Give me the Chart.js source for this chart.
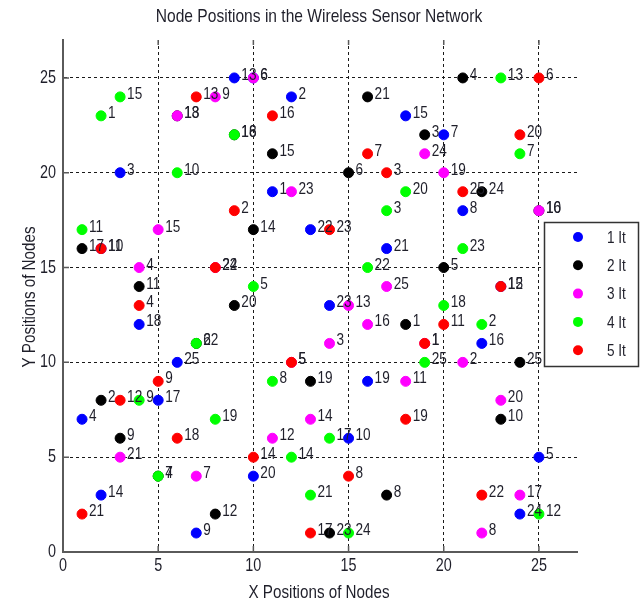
<!DOCTYPE html>
<html>
<head>
<meta charset="utf-8">
<script src="https://cdn.jsdelivr.net/npm/chart.js@4/dist/chart.umd.min.js"></script>
<style>
  html, body { margin: 0; padding: 0; background: #fff; }
  canvas { display: block; }
</style>
</head>
<body>
<canvas id="nodes" width="642" height="608"></canvas>
<script>
// node ids are the same for every iteration: 1..25
const nodeIds = [1, 2, 3, 4, 5, 6, 7, 8, 9, 10, 11, 12, 13, 14, 15, 16, 17, 18, 19, 20, 21, 22, 23, 24, 25]

// node positions per iteration, indexed by node id
const it1X = [11, 12, 3, 1, 25, 10, 20, 21, 7, 15, 2, 23, 9, 2, 18, 22, 5, 4, 16, 10, 17, 13, 14, 24, 6]
const it1Y = [19, 24, 20, 7, 5, 25, 22, 18, 1, 6, 16, 14, 25, 3, 23, 11, 8, 12, 9, 4, 16, 17, 13, 2, 10]

const it2X = [18, 2, 19, 21, 20, 15, 5, 17, 3, 23, 4, 8, 6, 10, 11, 25, 1, 9, 13, 9, 16, 7, 14, 22, 24]
const it2Y = [12, 8, 22, 25, 15, 20, 4, 3, 6, 7, 14, 2, 23, 17, 21, 18, 16, 22, 9, 13, 24, 11, 1, 19, 10]

const it3X = [19, 21, 14, 4, 12, 10, 7, 22, 8, 25, 18, 11, 15, 13, 5, 16, 24, 6, 20, 23, 3, 8, 12, 19, 17]
const it3Y = [11, 10, 11, 15, 10, 25, 4, 1, 24, 18, 9, 6, 13, 7, 17, 12, 3, 23, 20, 8, 5, 15, 19, 21, 14]

const it4X = [2, 22, 17, 5, 10, 7, 24, 11, 4, 6, 1, 25, 23, 12, 3, 9, 14, 20, 8, 18, 13, 16, 21, 15, 19]
const it4Y = [23, 12, 18, 4, 14, 11, 21, 9, 8, 20, 17, 2, 25, 5, 24, 22, 6, 13, 7, 19, 3, 15, 16, 1, 10]

const it5X = [19, 9, 17, 4, 12, 25, 16, 15, 5, 2, 20, 3, 7, 10, 23, 11, 13, 6, 18, 24, 1, 22, 14, 8, 21]
const it5Y = [11, 18, 20, 13, 10, 25, 21, 4, 9, 16, 12, 8, 24, 5, 14, 23, 1, 6, 7, 22, 2, 3, 17, 15, 19]

const seriesNames = ["1 It", "2 It", "3 It", "4 It", "5 It"]
const seriesColors = ["#0000ff", "#000000", "#ff00ff", "#00ff00", "#ff0000"]
const tickValues = [0, 5, 10, 15, 20, 25]

const FONT = '"Liberation Sans", Arial, sans-serif'
const TEXT_COLOR = "#1f1f2a"

// MATLAB-ish narrow lettering: draw text squeezed horizontally
const squeezed = (ctx, str, x, y, size, align = "left", baseline = "alphabetic", angle = 0, sx = 0.8) => {
  ctx.save()
  ctx.translate(x, y)
  if (angle) ctx.rotate(angle)
  ctx.scale(sx, 1)
  ctx.font = `${size}px ${FONT}`
  ctx.textAlign = align
  ctx.textBaseline = baseline
  ctx.fillStyle = TEXT_COLOR
  ctx.fillText(str, 0, 0)
  ctx.restore()
}

const toPoints = (xs, ys) => xs.map((x, i) => ({ x, y: ys[i] }))

const allX = [it1X, it2X, it3X, it4X, it5X]
const allY = [it1Y, it2Y, it3Y, it4Y, it5Y]

const datasets = seriesNames.map((name, s) => ({
  label: name,
  data: toPoints(allX[s], allY[s]),
  backgroundColor: seriesColors[s],
  borderColor: seriesColors[s],
  pointRadius: 5,
  pointBorderWidth: 1,
  pointHoverRadius: 5,
  order: 5 - s, // later iterations sit on top
}))

// node id next to every point
const nodeLabels = {
  id: "nodeLabels",
  afterDatasetsDraw(chart) {
    const { ctx, scales } = chart
    for (let s = 0; s < datasets.length; s++) {
      allX[s].forEach((xv, i) => {
        const px = scales.x.getPixelForValue(xv)
        const py = scales.y.getPixelForValue(allY[s][i])
        squeezed(ctx, String(nodeIds[i]), px + 7, py + 2, 17)
      })
    }
  },
}

// title, axis text, inner tick marks and the boxed legend
const decorations = {
  id: "decorations",
  afterDraw(chart) {
    const { ctx, chartArea: a, scales } = chart

    squeezed(ctx, "Node Positions in the Wireless Sensor Network", 319, 17, 19, "center", "middle", 0, 0.82)
    squeezed(ctx, "X Positions of Nodes", 319, 593, 19, "center", "middle")
    squeezed(ctx, "Y Positions of Nodes", 30, 297, 19, "center", "middle", -Math.PI / 2)

    tickValues.forEach((v) => {
      squeezed(ctx, String(v), scales.x.getPixelForValue(v), 566, 18, "center", "middle")
      squeezed(ctx, String(v), 56, scales.y.getPixelForValue(v), 18, "right", "middle")
    })

    ctx.save()
    ctx.strokeStyle = "#5a5a5a"
    ctx.lineWidth = 1.5
    ctx.beginPath()
    tickValues.slice(1).forEach((v) => {
      const px = scales.x.getPixelForValue(v)
      const py = scales.y.getPixelForValue(v)
      ctx.moveTo(px, a.bottom)
      ctx.lineTo(px, a.bottom - 6)
      ctx.moveTo(px, a.top)
      ctx.lineTo(px, a.top + 5)
      ctx.moveTo(a.left, py)
      ctx.lineTo(a.left + 6, py)
    })
    ctx.stroke()

    // legend box
    ctx.fillStyle = "#ffffff"
    ctx.fillRect(544.5, 222.5, 94, 144)
    ctx.strokeStyle = "#333333"
    ctx.lineWidth = 1.5
    ctx.strokeRect(544.5, 222.5, 94, 144)
    ctx.restore()

    seriesNames.forEach((name, s) => {
      const ry = 237 + s * 28.3
      ctx.save()
      ctx.fillStyle = seriesColors[s]
      ctx.beginPath()
      ctx.arc(578, ry, 5, 0, Math.PI * 2)
      ctx.fill()
      ctx.restore()
      squeezed(ctx, name, 607, ry + 1, 17, "left", "middle")
    })
  },
}

const axis = (afterFit) => ({
  type: "linear",
  min: 0,
  max: 27,
  afterFit,
  ticks: { display: false, stepSize: 5, includeBounds: false },
  grid: {
    drawTicks: false,
    lineWidth: 1,
    color: (c) => (c.tick && c.tick.value === 0 ? "rgba(0,0,0,0)" : "#1a1a1a"),
  },
  border: { display: true, color: "#5a5a5a", width: 2, dash: [3, 3] },
})

new Chart(document.getElementById("nodes"), {
  type: "scatter",
  data: { datasets },
  options: {
    responsive: false,
    animation: false,
    devicePixelRatio: 1,
    events: [],
    layout: { padding: { top: 40, right: 65, left: 0, bottom: 0 } },
    plugins: {
      legend: { display: false },
      tooltip: { enabled: false },
      title: { display: false },
    },
    scales: {
      x: axis((s) => { s.height = 56 }),
      y: axis((s) => { s.width = 63 }),
    },
  },
  plugins: [nodeLabels, decorations],
})
</script>
</body>
</html>
